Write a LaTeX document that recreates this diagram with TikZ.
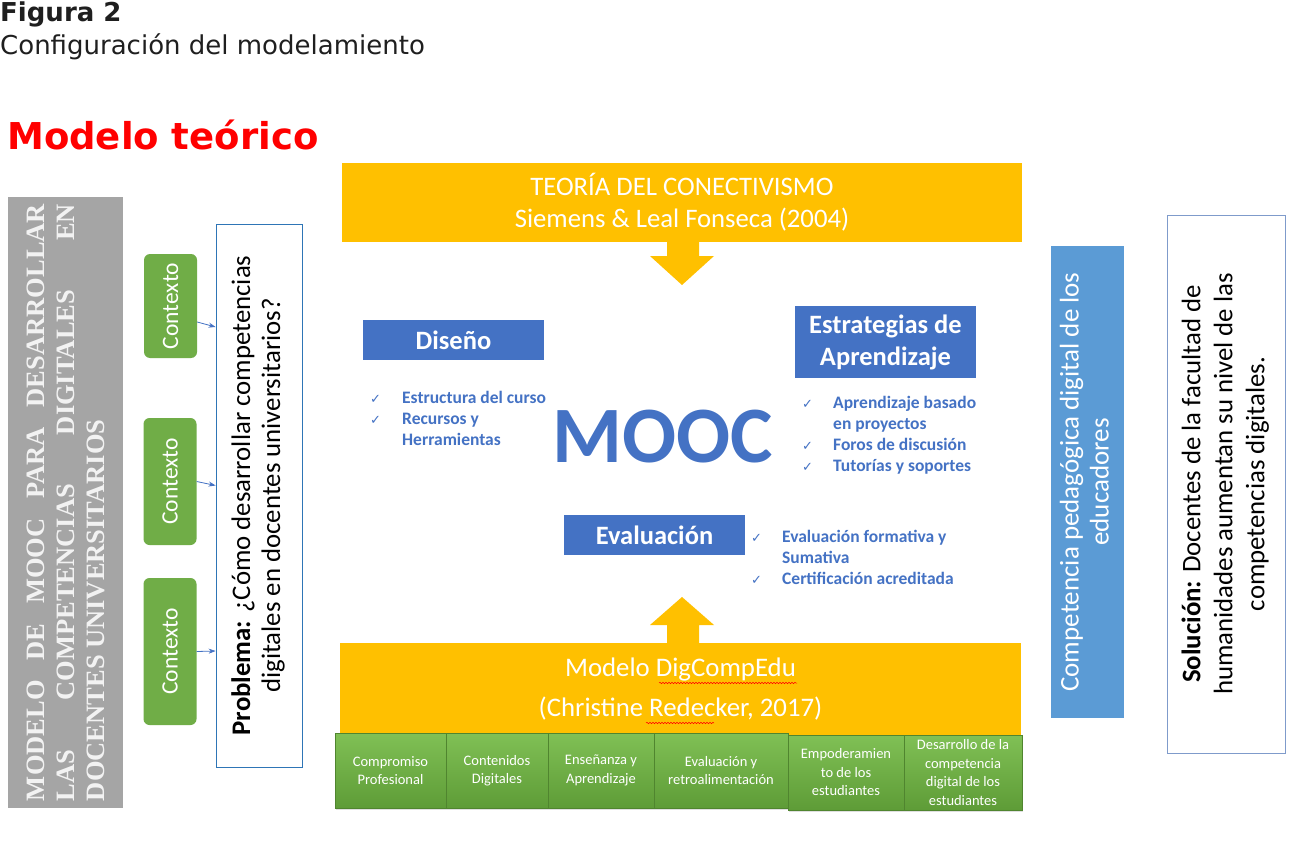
\documentclass[tikz,border=0pt]{standalone}
\usepackage{fontspec}
\setmainfont{Carlito}
\newfontfamily\verd{DejaVu Sans}
\newfontfamily\timesf{Liberation Serif}
\newfontfamily\chkf{DejaVu Sans}
\usetikzlibrary{arrows.meta,calc,shadows,decorations.pathmorphing}
\definecolor{orng}{HTML}{FFC000}
\definecolor{grn}{HTML}{70AD47}
\definecolor{blu}{HTML}{4472C4}
\definecolor{lblu}{HTML}{5B9BD5}
\definecolor{gry}{HTML}{A5A5A5}
\definecolor{gtext}{HTML}{F2F2F2}
\definecolor{gtop}{HTML}{80C055}
\definecolor{gbot}{HTML}{5E9C37}
\definecolor{probborder}{HTML}{2E75B6}
\definecolor{solborder}{HTML}{7F9BCB}
\definecolor{titlec}{HTML}{1F1F1F}
\newcommand{\fs}[2]{\fontsize{#1}{#2}\selectfont}
\newcommand{\chk}{{\chkf\mdseries\fontsize{13}{21}\selectfont ✓}}
\begin{document}
\begin{tikzpicture}[x=1pt,y=-1pt,
  orangebox/.style={fill=orng, draw=none, inner sep=0pt, text=white, align=center},
  ctxbox/.style={fill=grn, rounded corners=6pt, minimum width=53pt, inner sep=0pt, text=white, font=\fs{23.5}{26}},
  bluehead/.style={fill=blu, text=white, font=\bfseries\fs{26.5}{32}, minimum width=181pt, inner sep=0pt, align=center},
  checklist/.style={anchor=north west, inner sep=0pt, text=blu, font=\bfseries\fs{17.5}{21}},
  gcell/.style={top color=gtop, bottom color=gbot, draw=gbot!85!black, line width=0.4pt, text=white, font=\fs{14.5}{18.5}, align=center, minimum height=75pt, inner sep=0pt, drop shadow={opacity=0.25, shadow xshift=1pt, shadow yshift=-2pt}},
  ctxarrow/.style={draw=blu, line width=0.8pt, -{Stealth[length=7pt,width=5pt]}},
  squiggle/.style={draw=red, line width=0.5pt, decorate, decoration={snake, amplitude=0.7pt, segment length=3pt}}
]
\useasboundingbox (0,0) rectangle (1301,845);
\fill[white] (0,0) rectangle (1301,845);

% titles
\node[anchor=base west, inner sep=0pt, text=titlec, font=\verd\bfseries\fs{26}{30}] (fig) at (0,22) {Figura 2};
\node[anchor=base west, inner sep=0pt, text=titlec, font=\verd\fs{26}{30}] (cfg) at (0,55) {Configuración del modelamiento};
\node[anchor=base west, inner sep=0pt, text=red, font=\verd\bfseries\fs{37}{40}] (mt) at (7,150) {Modelo teórico};

% left grey box
\node[fill=gry, minimum width=115pt, minimum height=611pt, inner sep=0pt] (model) at (65.5,502.5)
  {\rotatebox{90}{\parbox{597pt}{\timesf\bfseries\fs{26.5}{30}\color{gtext}%
   \makebox[597pt][s]{MODELO DE MOOC PARA DESARROLLAR}\\
   \makebox[597pt][s]{LAS COMPETENCIAS DIGITALES EN}\\
   DOCENTES UNIVERSITARIOS}}};

% contexto boxes
\node[ctxbox, minimum height=104pt] (c1) at (170.5,306) {\rotatebox{90}{Contexto}};
\node[ctxbox, minimum height=127pt] (c2) at (170,481.5) {\rotatebox{90}{Contexto}};
\node[ctxbox, minimum height=147pt] (c3) at (170,651.5) {\rotatebox{90}{Contexto}};

% problem box
\node[draw=probborder, fill=white, line width=0.8pt, minimum width=86pt, minimum height=543pt, inner sep=0pt] (prob) at (259,495.5)
  {\rotatebox{90}{\fs{26.8}{30}\begin{tabular}{@{}c@{}}\textbf{Problema:} ¿Cómo desarrollar competencias\\digitales en docentes universitarios?\end{tabular}}};

\draw[ctxarrow] ([yshift=-16pt]c1.east) -- ([yshift=168.5pt]prob.west);
\draw[ctxarrow] (c2.east) -- ([yshift=10pt]prob.west);
\draw[ctxarrow] (c3.east) -- ([yshift=-155.5pt]prob.west);

% top theory box and arrow
\node[orangebox, minimum width=680pt, minimum height=79pt, font=\fs{26.7}{32}] (teoria) at (682,202.5)
  {TEORÍA DEL CONECTIVISMO\\Siemens \& Leal Fonseca (2004)};
\fill[orng] (667,242) -- (699,242) -- (699,256) -- (714,256) -- (682,285) -- (650,256) -- (667,256) -- cycle;

% bottom DigCompEdu box and arrow
\node[orangebox, minimum width=681pt, minimum height=92pt, font=\fs{26.8}{40}] (digi) at (680.5,689)
  {Modelo DigCompEdu\\(Christine Redecker, 2017)};
\fill[orng] (667,645) -- (699,645) -- (699,625) -- (714,625) -- (682,597) -- (650,625) -- (667,625) -- cycle;
\draw[squiggle] (659,683) -- (797,683);
\draw[squiggle] (646,723) -- (714,723);

% green row
\node[gcell, minimum width=111pt] (g1) at (390.5,770.5) {Compromiso\\Profesional};
\node[gcell, minimum width=102pt] (g2) at (497,770.5) {Contenidos\\Digitales};
\node[gcell, minimum width=106pt] (g3) at (601,770.5) {Enseñanza y\\Aprendizaje};
\node[gcell, minimum width=134pt] (g4) at (721,770.5) {Evaluación y\\retroalimentación};
\node[gcell, minimum width=116pt] (g5) at (846,772.5) {Empoderamien\\to de los\\estudiantes};
\node[gcell, minimum width=118pt] (g6) at (963,772.5) {Desarrollo de la\\competencia\\digital de los\\estudiantes};

% MOOC centre
\node[text=blu, font=\bfseries\fs{80}{80}, inner sep=0pt] (mooc) at (663,437) {MOOC};

\node[bluehead, minimum height=40pt] (dis) at (453.5,340) {Diseño};
\node[bluehead, minimum height=72pt] (est) at (885.5,342) {Estrategias de\\Aprendizaje};
\node[bluehead, minimum height=40pt] (eva) at (654.5,535) {Evaluación};

\node[checklist] (l1) at (370,389) {\begin{tabular}{@{}p{32pt}@{}l@{}}\chk & Estructura del curso\\ \chk & Recursos y\\ & Herramientas\end{tabular}};
\node[checklist] (l2) at (802,394) {\begin{tabular}{@{}p{31pt}@{}l@{}}\chk & Aprendizaje basado\\ & en proyectos\\ \chk & Foros de discusión\\ \chk & Tutorías y soportes\end{tabular}};
\node[checklist] (l3) at (751,528) {\begin{tabular}{@{}p{31pt}@{}l@{}}\chk & Evaluación formativa y\\ & Sumativa\\ \chk & Certificación acreditada\end{tabular}};

% right boxes
\node[fill=lblu, minimum width=73pt, minimum height=472pt, inner sep=0pt, text=white] (comp) at (1087.5,482)
  {\rotatebox{90}{\fs{27}{30}\begin{tabular}{@{}c@{}}Competencia pedagógica digital de los\\educadores\end{tabular}}};
\node[draw=solborder, fill=white, line width=0.8pt, minimum width=118pt, minimum height=538pt, inner sep=0pt] (sol) at (1226,484)
  {\rotatebox{90}{\fs{26.8}{32}\begin{tabular}{@{}c@{}}\textbf{Solución:} Docentes de la facultad de\\humanidades aumentan su nivel de las\\competencias digitales.\end{tabular}}};
\end{tikzpicture}
\end{document}
